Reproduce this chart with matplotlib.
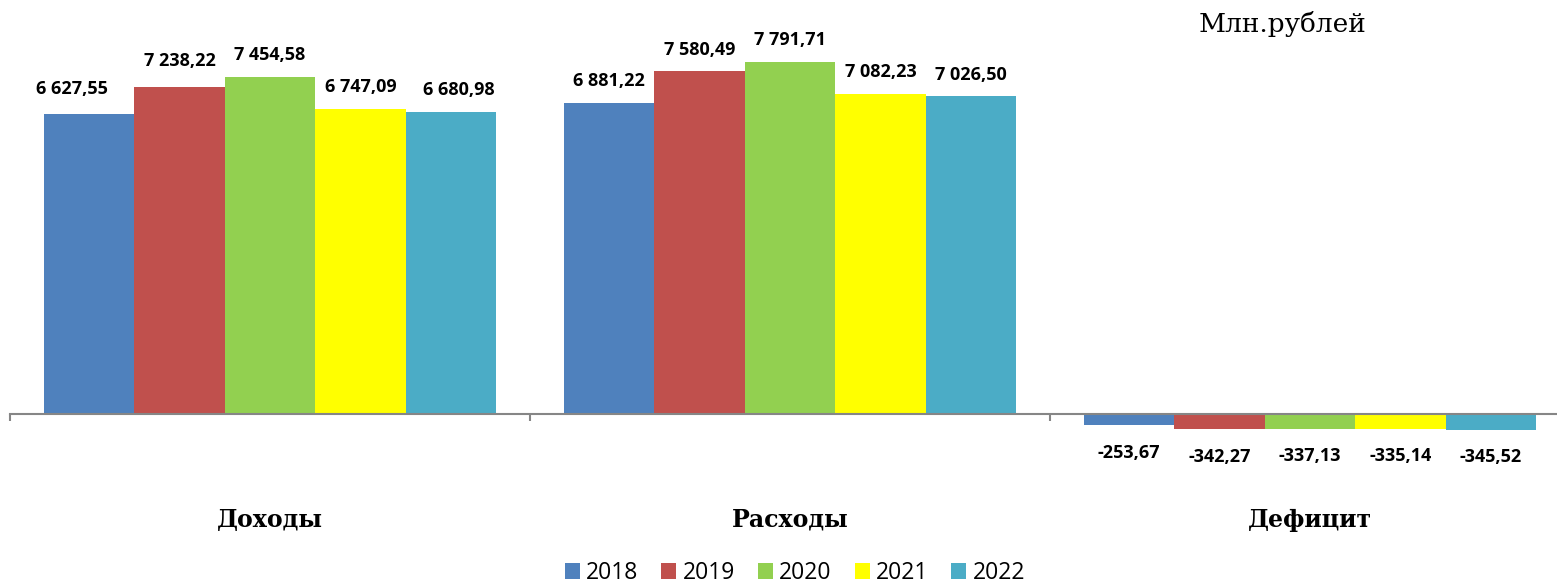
import matplotlib
matplotlib.use("Agg")
import matplotlib.pyplot as plt
from matplotlib.patches import Patch
import numpy as np

categories = ["Доходы", "Расходы", "Дефицит"]
years = ["2018", "2019", "2020", "2021", "2022"]
values = {
    "2018": [6627.55, 6881.22, -253.67],
    "2019": [7238.22, 7580.49, -342.27],
    "2020": [7454.58, 7791.71, -337.13],
    "2021": [6747.09, 7082.23, -335.14],
    "2022": [6680.98, 7026.50, -345.52],
}
colors = ["#4F81BD", "#C0504D", "#92D050", "#FFFF00", "#4BACC6"]
unit_label = "Млн.рублей"

# manual label nudges (points) as in the original, keyed by (year index, category index)
label_nudge = {(0, 0): (-12, 3), (1, 0): (0, 3), (4, 0): (6, 0)}

def fmt(v):
    s = f"{abs(v):,.2f}".replace(",", " ").replace(".", ",")
    return ("-" if v < 0 else "") + s

W, H = 1557, 586
fig = plt.figure(figsize=(W / 100, H / 100), dpi=100)
ax = fig.add_axes([10 / W, 0, 1560 / W, 1])
ax.set_xlim(-0.5, 2.5)
ax.set_ylim(-3805, 9159)

x = np.arange(len(categories))
bw = 0.174
n = len(years)
for i, (yr, c) in enumerate(zip(years, colors)):
    pos = x + (i - (n - 1) / 2) * bw
    vals = values[yr]
    ax.bar(pos, vals, width=bw, color=c, edgecolor="none", zorder=2)
    for j, (px, v) in enumerate(zip(pos, vals)):
        dx, dy = label_nudge.get((i, j), (0, 0))
        if v >= 0:
            ax.annotate(fmt(v), (px, v), xytext=(dx, 12 + dy), textcoords="offset points",
                        ha="center", va="baseline", fontsize=13, fontweight="bold",
                        family="Open Sans", color="black")
        else:
            ax.annotate(fmt(v), (px, v), xytext=(dx, -19.5 + dy), textcoords="offset points",
                        ha="center", va="center", fontsize=13, fontweight="bold",
                        family="Open Sans", color="black")

for s in ["top", "right", "left"]:
    ax.spines[s].set_visible(False)
ax.spines["bottom"].set_position(("data", 0))
ax.spines["bottom"].set_color("#868686")
ax.spines["bottom"].set_linewidth(1.5)
ax.set_yticks([])
ax.set_xticks([-0.5, 0.5, 1.5, 2.5])
ax.set_xticklabels([])
ax.tick_params(axis="x", direction="out", length=5, width=1.5, color="#868686")

for xi, cat in zip(x, categories):
    fig.text((10 + (xi + 0.5) * 520) / W, 1 - 520 / H, cat, ha="center", va="center",
             fontsize=17, fontweight="bold", family="DejaVu Serif")

fig.text(1282 / W, 1 - 24 / H, unit_label, ha="center", va="center",
         fontsize=19, family="DejaVu Serif")

handles = [Patch(facecolor=c, edgecolor="none") for c in colors]
fig.legend(handles, years, loc="center", bbox_to_anchor=(795 / W, 1 - 573 / H),
           ncol=5, frameon=False, prop={"family": "Open Sans", "size": 16.5},
           handlelength=0.65, handleheight=0.65, handletextpad=0.28,
           columnspacing=1.0, borderpad=0, borderaxespad=0)

fig.savefig("out.png", dpi=100)
